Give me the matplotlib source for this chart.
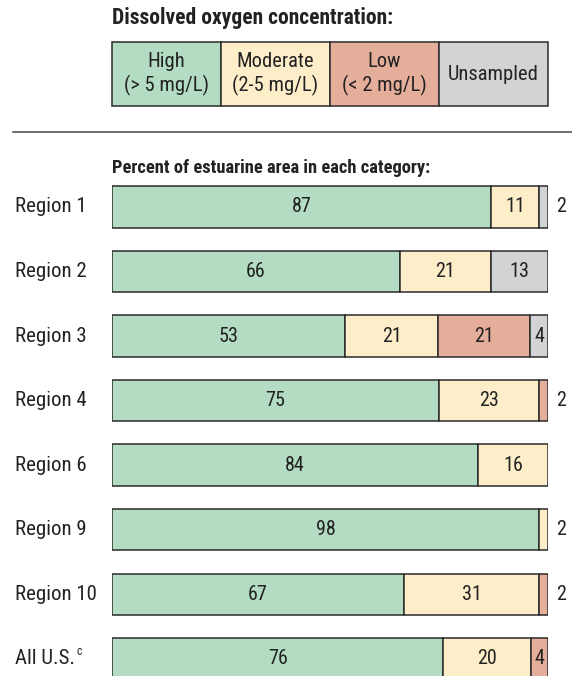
import matplotlib
matplotlib.use("Agg")
import matplotlib.pyplot as plt
from matplotlib.patches import Rectangle
from matplotlib.lines import Line2D
import numpy as np

plt.rcParams['font.family'] = ['Roboto Condensed', 'Archivo Narrow', 'Liberation Sans', 'DejaVu Sans']
bold_family = ['Roboto Condensed', 'IBM Plex Sans Condensed', 'Archivo Narrow', 'DejaVu Sans']

# percent of estuarine area per dissolved oxygen class
regions = ["Region 1", "Region 2", "Region 3", "Region 4",
           "Region 6", "Region 9", "Region 10", "All U.S."]
high = [87, 66, 53, 75, 84, 98, 67, 76]
moderate = [11, 21, 21, 23, 16, 2, 31, 20]
low = [0, 0, 21, 2, 0, 0, 2, 4]
unsampled = [2, 13, 4, 0, 0, 0, 0, 0]

categories = ["High\n(> 5 mg/L)", "Moderate\n(2-5 mg/L)", "Low\n(< 2 mg/L)", "Unsampled"]
colors = ["#b3dcc2", "#fdeec9", "#e5ae9b", "#d2d3d5"]

W, H = 572, 676
edge = "#2b2b2b"
txt = "#222222"

fig = plt.figure(figsize=(W / 100, H / 100), dpi=100)

# legend boxes
lax = fig.add_axes([112 / W, 1 - 106 / H, 436 / W, 64 / H])
lax.set_xlim(0, len(categories))
lax.set_ylim(0, 1)
lax.axis('off')
for i, (cat, col) in enumerate(zip(categories, colors)):
    lax.add_patch(Rectangle((i, 0), 1, 1, facecolor=col, edgecolor=edge,
                            linewidth=1.1, clip_on=False))
    lax.text(i + 0.5, 0.5, cat, ha='center', va='center', fontsize=14.8,
             color=txt, linespacing=1.25)

fig.text(112 / W, 1 - 18 / H, "Dissolved oxygen concentration:",
         fontsize=15.5, fontweight='bold', family=bold_family, color=txt, va='center')
fig.add_artist(Line2D([13 / W, 1], [1 - 132 / H, 1 - 132 / H],
                      color='#555555', linewidth=1.2))
fig.text(112 / W, 1 - 168 / H, "Percent of estuarine area in each category:",
         fontsize=13.3, fontweight='bold', family=bold_family, color=txt, va='center')

# stacked bars
ax = fig.add_axes([112 / W, 0, 436 / W, 1])
ax.set_xlim(0, 100)
ax.set_ylim(7.271, -3.209)
ax.axis('off')

vals = np.array([high, moderate, low, unsampled], dtype=float).T
widths = vals / vals.sum(axis=1, keepdims=True) * 100
lefts = np.cumsum(widths, axis=1) - widths
y = np.arange(len(regions))

for k, col in enumerate(colors):
    m = vals[:, k] > 0
    ax.barh(y[m], widths[m, k], left=lefts[m, k], height=0.636,
            color=col, edgecolor=edge, linewidth=1.1)
    for i in np.where(m)[0]:
        v = vals[i, k]
        if v > 2:
            ax.text(lefts[i, k] + widths[i, k] / 2, y[i], f"{v:.0f}",
                    ha='center', va='center', fontsize=14.5, color=txt)
        else:
            ax.text(101.8, y[i], f"{v:.0f}", ha='left', va='center',
                    fontsize=14.5, color=txt, clip_on=False)

for i, name in enumerate(regions):
    t = ax.text(-22.3, y[i], name, ha='left', va='center', fontsize=15,
                color=txt, clip_on=False)
    if name == "All U.S.":
        ax.annotate("c", xy=(1, 0.85), xycoords=t, xytext=(1.0, 0),
                    textcoords='offset points', fontsize=8.5, color=txt,
                    ha='left', va='center')

fig.savefig("out.png", dpi=100)
